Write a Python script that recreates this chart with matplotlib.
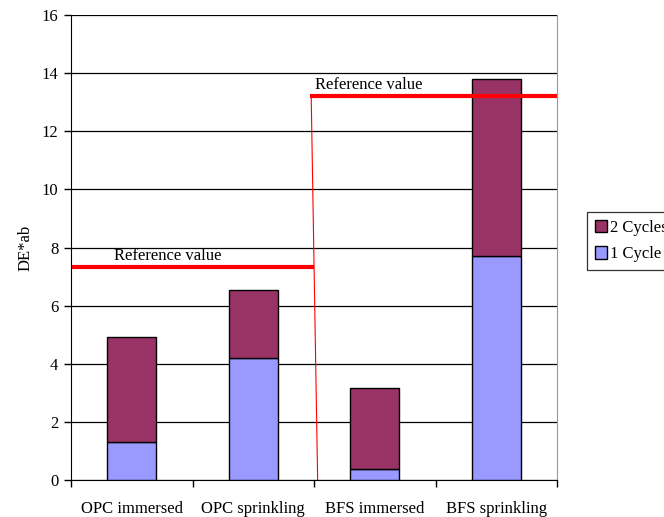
import matplotlib
matplotlib.use("Agg")
import matplotlib.pyplot as plt
from matplotlib.patches import Patch
import numpy as np

categories = ["OPC immersed", "OPC sprinkling", "BFS immersed", "BFS sprinkling"]
one_cycle = [1.32, 4.20, 0.38, 7.72]
two_cycles = [3.61, 2.34, 2.79, 6.07]
ref_left = 7.34
ref_right = 13.2
yticks = [0, 2, 4, 6, 8, 10, 12, 14, 16]

plt.rcParams['font.family'] = ['Liberation Serif', 'DejaVu Serif']
fs = 12

fig = plt.figure(figsize=(6.64, 5.17), dpi=100)
ax = fig.add_axes([71/664, 1-480/517, (557-71)/664, (480-15)/517])

x = np.arange(len(categories))
w = 0.4
c1 = '#9999FF'
c2 = '#993366'
ax.bar(x, one_cycle, w, color=c1, edgecolor='black', linewidth=1.0, zorder=3, label='1 Cycle')
ax.bar(x, two_cycles, w, bottom=one_cycle, color=c2, edgecolor='black', linewidth=1.0, zorder=3, label='2 Cycles')

# reference lines
ax.plot([-0.49, 1.5], [ref_left, ref_left], color='red', lw=3, zorder=4, solid_capstyle='butt')
ax.plot([1.47, 3.5], [ref_right, ref_right], color='red', lw=3, zorder=4, solid_capstyle='butt', clip_on=False)
ax.plot([1.477, 1.53], [ref_right, 0], color='red', lw=0.8, zorder=4)
ax.text(-0.146, ref_left + 0.1, "Reference value", fontsize=fs, ha='left', va='bottom', zorder=5)
ax.text(1.508, ref_right + 0.1, "Reference value", fontsize=fs, ha='left', va='bottom', zorder=5)

ax.set_xlim(-0.5, 3.5)
ax.set_ylim(0, 16)
ax.set_yticks(yticks)
ax.set_yticklabels([str(v) for v in yticks], fontsize=fs)
ax.yaxis.grid(True, color='black', lw=0.9, zorder=0)
ax.set_axisbelow(True)

ax.set_xticks(np.arange(-0.5, 4, 1.0))
ax.set_xticklabels([])
ax.set_xticks(x, minor=True)
ax.set_xticklabels(categories, minor=True, fontsize=fs)
ax.tick_params(axis='x', which='minor', length=0, pad=15)
ax.tick_params(axis='x', which='major', length=5, direction='out', width=1)
ax.tick_params(axis='y', length=5, direction='out', width=1, pad=4)

ax.spines['top'].set_visible(False)
ax.spines['right'].set_color('#999999')
ax.spines['left'].set_color('black')
ax.spines['bottom'].set_color('black')

ax.set_ylabel("DE*ab", fontsize=fs, labelpad=6)

handles = [Patch(facecolor=c2, edgecolor='black', label='2 Cycles'),
           Patch(facecolor=c1, edgecolor='black', label='1 Cycle')]
leg = fig.legend(handles=handles, loc='upper left', bbox_to_anchor=(587/664, 1-212/517),
                 fontsize=fs, frameon=True, fancybox=False, edgecolor='black',
                 handlelength=0.75, handleheight=0.75, handletextpad=0.2,
                 borderpad=0.45, labelspacing=0.65, borderaxespad=0)
leg.get_frame().set_linewidth(0.9)

fig.savefig("out.png", dpi=100, facecolor='white')
